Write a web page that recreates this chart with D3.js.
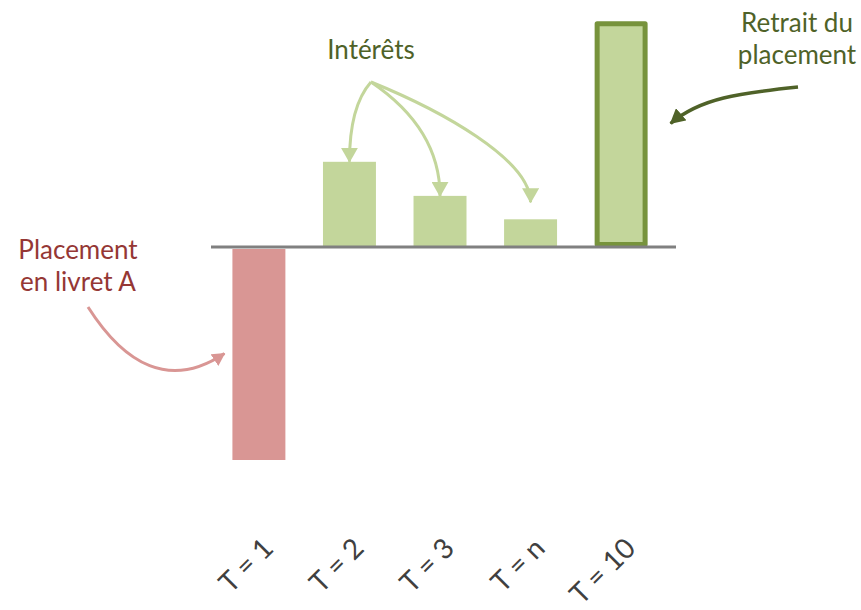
<!DOCTYPE html>
<html>
<head>
<meta charset="utf-8">
<script src="https://cdn.jsdelivr.net/npm/d3@7/dist/d3.min.js"></script>
<style>
  html, body { margin: 0; padding: 0; background: #fff; }
  svg { display: block; }
  text { font-family: Lato, "Noto Sans", sans-serif; }
</style>
</head>
<body>
<svg id="chart" width="861" height="610"></svg>
<script>
// ---- data ----
const categories = ["T = 1", "T = 2", "T = 3", "T = n", "T = 10"];
const values = [-100, 40, 24, 13, 106];
const barKinds = ["placement", "interet", "interet", "interet", "retrait"];
const annotationPlacement = ["Placement", "en livret A"];
const annotationInterets = ["Intérêts"];
const annotationRetrait = ["Retrait du", "placement"];

const svg = d3.select("#chart");

const x = d3.scaleBand()
  .domain(categories)
  .range([211, 676])
  .paddingInner(0.415)
  .paddingOuter(0.275)
  .align(0.43);

const y = d3.scaleLinear()
  .domain([-100, 100])
  .range([460, 34]);

const colors = {
  placement: "#D99694",
  interet: "#C3D69B",
  retrait: "#C3D69B",
  retraitStroke: "#77933C",
  redText: "#953735",
  greenText: "#4F6228",
  darkArrow: "#4F6228",
  axis: "#808080",
  tick: "#404040"
};

const data = categories.map((c, i) => ({ cat: c, value: values[i], kind: barKinds[i] }));

// ---- markers ----
const defs = svg.append("defs");
function marker(id, color, len, half) {
  defs.append("marker")
    .attr("id", id)
    .attr("markerUnits", "userSpaceOnUse")
    .attr("viewBox", `0 ${-half} ${len} ${2 * half}`)
    .attr("refX", len - 1)
    .attr("refY", 0)
    .attr("markerWidth", len)
    .attr("markerHeight", 2 * half)
    .attr("orient", "auto")
    .append("path")
    .attr("d", `M0,${-half}L${len},0L0,${half}Z`)
    .attr("fill", color);
}
marker("arrPink", colors.placement, 13, 7);
marker("arrLight", colors.interet, 15, 8.5);
marker("arrDark", colors.darkArrow, 15, 8);

// ---- bars ----
const bw = x.bandwidth();
const sw = 5;
svg.append("g").selectAll("rect")
  .data(data)
  .join("rect")
  .attr("x", d => d.kind === "retrait" ? x(d.cat) + sw / 2 : x(d.cat))
  .attr("width", d => d.kind === "retrait" ? bw - sw : bw)
  .attr("y", d => {
    if (d.kind === "retrait") return y(d.value) + sw / 2;
    return d.value >= 0 ? y(d.value) : y(0) + 2;
  })
  .attr("height", d => {
    if (d.kind === "retrait") return y(0) - y(d.value) - sw;
    return d.value >= 0 ? y(0) - y(d.value) : y(d.value) - y(0) - 2;
  })
  .attr("fill", d => colors[d.kind])
  .attr("stroke", d => d.kind === "retrait" ? colors.retraitStroke : "none")
  .attr("stroke-width", d => d.kind === "retrait" ? sw : 0)
  .attr("stroke-linejoin", "round");

// ---- baseline axis ----
svg.append("line")
  .attr("x1", x.range()[0]).attr("x2", x.range()[1])
  .attr("y1", y(0)).attr("y2", y(0))
  .attr("stroke", colors.axis)
  .attr("stroke-width", 3);

// ---- tick labels ----
svg.append("g").selectAll("text")
  .data(categories)
  .join("text")
  .attr("transform", c => `translate(${x(c) + bw / 2 + 16},${550}) rotate(-45)`)
  .attr("text-anchor", "end")
  .attr("font-size", 28)
  .attr("fill", colors.tick)
  .text(c => c);

// ---- annotations ----
const g = svg.append("g").attr("fill", "none");

// Placement en livret A
svg.append("g").selectAll("text")
  .data(annotationPlacement)
  .join("text")
  .attr("x", 78).attr("y", (d, i) => 259 + i * 32)
  .attr("text-anchor", "middle")
  .attr("font-size", 26)
  .attr("fill", colors.redText)
  .text(d => d);

{
  const tip = [x(categories[0]) - 8, y(-50)];
  const p = d3.path();
  p.moveTo(88, 307);
  p.bezierCurveTo(125, 365, 170, 390, tip[0], tip[1]);
  g.append("path").attr("d", p.toString())
    .attr("stroke", colors.placement).attr("stroke-width", 3)
    .attr("marker-end", "url(#arrPink)");
}

// Intérêts
svg.append("text")
  .attr("x", 371).attr("y", 59)
  .attr("text-anchor", "middle")
  .attr("font-size", 26)
  .attr("fill", colors.greenText)
  .text(annotationInterets[0]);

{
  const O = [371, 82];
  const targets = [
    { i: 1, dy: 0, c1: [-16, 18], c2: -35 },
    { i: 2, dy: 0, c1: [34, 23], c2: -55 },
    { i: 3, dy: -17, c1: [69, 28], c2: -43 }
  ];
  targets.forEach(t => {
    const cat = categories[t.i];
    const T = [x(cat) + bw / 2, y(values[t.i]) + t.dy];
    const p = d3.path();
    p.moveTo(O[0], O[1]);
    p.bezierCurveTo(O[0] + t.c1[0], O[1] + t.c1[1], T[0], T[1] + t.c2, T[0], T[1]);
    g.append("path").attr("d", p.toString())
      .attr("stroke", colors.interet).attr("stroke-width", 3)
      .attr("marker-end", "url(#arrLight)");
  });
}

// Retrait du placement
svg.append("g").selectAll("text")
  .data(annotationRetrait)
  .join("text")
  .attr("x", 797).attr("y", (d, i) => 32 + i * 32)
  .attr("text-anchor", "middle")
  .attr("font-size", 26)
  .attr("fill", colors.greenText)
  .text(d => d);

{
  const tip = [x(categories[4]) + bw + 23, y(58)];
  const p = d3.path();
  p.moveTo(798, 87);
  p.bezierCurveTo(740, 93, 700, 98, tip[0], tip[1]);
  g.append("path").attr("d", p.toString())
    .attr("stroke", colors.darkArrow).attr("stroke-width", 3.5)
    .attr("marker-end", "url(#arrDark)");
}
</script>
</body>
</html>
